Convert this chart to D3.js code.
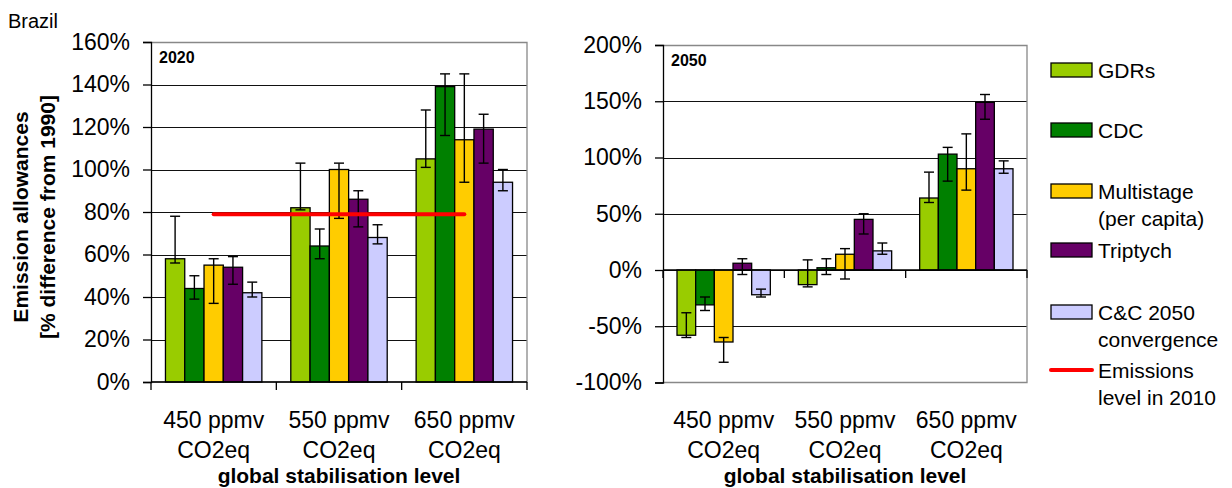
<!DOCTYPE html>
<html><head><meta charset="utf-8">
<script src="https://cdn.jsdelivr.net/npm/d3@7/dist/d3.min.js"></script>
<style>
html,body{margin:0;padding:0;background:#fff;}
svg{display:block;font-family:"Liberation Sans",Arial,sans-serif;}
</style></head>
<body>
<svg id="chart" width="1232" height="488"></svg>
<script>
// ---------- data ----------
const categories = [["450 ppmv","CO2eq"],["550 ppmv","CO2eq"],["650 ppmv","CO2eq"]];
const seriesNames = ["GDRs","CDC","Multistage (per capita)","Triptych","C&C 2050 convergence"];
const seriesColors = ["#99CC00","#008000","#FFCC00","#660066","#CCCCFF"];

// 2020 values (per category) for each series
const gdrs2020 = [58, 82, 105];
const cdc2020 = [44, 64, 139];
const multi2020 = [55, 100, 114];
const trip2020 = [54, 86, 119];
const cc2020 = [42, 68, 94];
const errLow2020 = [[56, 81, 101],[39, 58, 116],[37, 77, 94],[46, 73, 103],[40, 65, 90]];
const errHigh2020 = [[78, 103, 128],[50, 72, 145],[58, 103, 145],[59, 90, 126],[47, 74, 100]];
const emissions2010 = [79, 79, 79];

// 2050 values
const gdrs2050 = [-58, -13, 64];
const cdc2050 = [-31, 2, 103];
const multi2050 = [-64, 14, 90];
const trip2050 = [6, 45, 149];
const cc2050 = [-22, 17, 90];
const errLow2050 = [[-60, -15, 60],[-36, -4, 79],[-82, -8, 71],[-4, 32, 134],[-24, 14, 86]];
const errHigh2050 = [[-38, 9, 87],[-24, 10, 109],[-60, 19, 121],[10, 50, 156],[-17, 24, 97]];

const ticks2020 = [0,20,40,60,80,100,120,140,160];
const ticks2050 = [-100,-50,0,50,100,150,200];

// ---------- drawing ----------
const svg = d3.select("#chart");
const FONT = 21;
const TICKFONT = 23;

svg.append("text").attr("x", 8).attr("y", 28).attr("font-size", 20).text("Brazil");

function panel(opt){
  const g = svg.append("g");
  const x0 = d3.scaleBand().domain(d3.range(categories.length)).range([opt.x, opt.x + opt.w]).paddingInner(0).paddingOuter(0);
  const x1 = d3.scaleBand().domain(d3.range(seriesNames.length)).range([0, x0.bandwidth()]).paddingInner(0).paddingOuter(0.75);
  const y = d3.scaleLinear().domain(opt.domain).range([opt.y + opt.h, opt.y]);
  const top = y(opt.domain[1]);
  const bottom = y(opt.domain[0]);

  // gridlines
  g.append("g").selectAll("line").data(opt.ticks.filter(t => t !== opt.domain[1] && t !== opt.domain[0])).join("line")
    .attr("x1", opt.x).attr("x2", opt.x + opt.w)
    .attr("y1", d => Math.round(y(d)) + 0.5).attr("y2", d => Math.round(y(d)) + 0.5)
    .attr("stroke", "#111").attr("stroke-width", 1);
  // top, right and bottom border (gray)
  g.append("path").attr("d", `M${opt.x},${Math.round(top)+0.5}H${opt.x+opt.w}V${bottom}H${opt.x}`)
    .attr("fill", "none").attr("stroke", "#888").attr("stroke-width", 1.3);

  // y axis
  const yAxis = d3.axisLeft(y).tickValues(opt.ticks).tickSize(8).tickFormat(d => d + "%");
  const ya = g.append("g").attr("transform", `translate(${opt.x},0)`).call(yAxis);
  ya.select(".domain").attr("stroke", "#000").attr("stroke-width", 1.3);
  ya.selectAll(".tick line").attr("stroke", "#000").attr("stroke-width", 1.3);
  ya.selectAll(".tick text").attr("font-size", TICKFONT).attr("fill", "#000").attr("x", -21)
    .attr("font-family", "Liberation Sans, Arial, sans-serif");

  // bars
  const vals = opt.values;
  seriesNames.forEach((s, si) => {
    g.append("g").selectAll("rect").data(vals[si]).join("rect")
      .attr("x", (d, ci) => x0(ci) + x1(si))
      .attr("width", x1.bandwidth())
      .attr("y", d => y(Math.max(0, d)))
      .attr("height", d => Math.abs(y(d) - y(0)))
      .attr("fill", seriesColors[si]).attr("stroke", "#000").attr("stroke-width", 1.3);
  });

  // baseline at zero
  const baseY = y(opt.baseline);
  g.append("line").attr("x1", opt.x).attr("x2", opt.x + opt.w).attr("y1", baseY).attr("y2", baseY)
    .attr("stroke", "#000").attr("stroke-width", 1.3);
  // x category ticks
  const tickXs = d3.range(categories.length + 1).map(i => i < categories.length ? x0(i) : opt.x + opt.w);
  g.append("g").selectAll("line").data(tickXs).join("line")
    .attr("x1", d => d).attr("x2", d => d).attr("y1", baseY).attr("y2", baseY + 8)
    .attr("stroke", "#000").attr("stroke-width", 1.3);

  // error bars
  seriesNames.forEach((s, si) => {
    const eg = g.append("g").attr("stroke", "#000").attr("stroke-width", 1.4);
    categories.forEach((c, ci) => {
      const cx = x0(ci) + x1(si) + x1.bandwidth() / 2;
      const lo = y(opt.errLow[si][ci]), hi = y(opt.errHigh[si][ci]);
      eg.append("line").attr("x1", cx).attr("x2", cx).attr("y1", lo).attr("y2", hi);
      eg.append("line").attr("x1", cx - 5).attr("x2", cx + 5).attr("y1", lo).attr("y2", lo);
      eg.append("line").attr("x1", cx - 5).attr("x2", cx + 5).attr("y1", hi).attr("y2", hi);
    });
  });

  // emissions line
  if (opt.line) {
    const lineGen = d3.line().x((d, i) => x0(i) + x0.bandwidth() / 2).y(d => y(d));
    g.append("path").attr("d", lineGen(opt.line)).attr("fill", "none")
      .attr("stroke", "#FF0000").attr("stroke-width", 4).attr("stroke-linecap", "round");
  }

  // panel label
  g.append("text").attr("x", opt.x + 8).attr("y", opt.y + 21).attr("font-size", 16).attr("font-weight", "bold").text(opt.label);

  // category labels
  categories.forEach((c, ci) => {
    const cx = x0(ci) + x0.bandwidth() / 2;
    c.forEach((t, li) => {
      g.append("text").attr("x", cx).attr("y", 428 + li * 30).attr("text-anchor", "middle").attr("font-size", TICKFONT).text(t);
    });
  });
  g.append("text").attr("x", opt.x + opt.w / 2).attr("y", 483).attr("text-anchor", "middle")
    .attr("font-size", FONT).attr("font-weight", "bold").text("global stabilisation level");
}

panel({x:151, y:42, w:376, h:340, domain:[0,160], ticks:ticks2020, baseline:0, label:"2020",
  values:[gdrs2020, cdc2020, multi2020, trip2020, cc2020], errLow:errLow2020, errHigh:errHigh2020, line:emissions2010});
panel({x:663, y:45, w:364, h:337.5, domain:[-100,200], ticks:ticks2050, baseline:0, label:"2050",
  values:[gdrs2050, cdc2050, multi2050, trip2050, cc2050], errLow:errLow2050, errHigh:errHigh2050, line:null});

// y-axis title
const yt = svg.append("g").attr("font-size", FONT).attr("font-weight", "bold").attr("text-anchor", "middle");
yt.append("text").attr("transform", "translate(28,217) rotate(-90)").text("Emission allowances");
yt.append("text").attr("transform", "translate(55,217) rotate(-90)").text("[% difference from 1990]");

// legend
const legendItems = [
  {lines:["GDRs"], color:seriesColors[0], cy:70},
  {lines:["CDC"], color:seriesColors[1], cy:130},
  {lines:["Multistage","(per capita)"], color:seriesColors[2], cy:191},
  {lines:["Triptych"], color:seriesColors[3], cy:250},
  {lines:["C&C 2050","convergence"], color:seriesColors[4], cy:312},
  {lines:["Emissions","level in 2010"], color:"#FF0000", cy:370, isLine:true}
];
const lg = svg.append("g");
legendItems.forEach(it => {
  if (it.isLine) {
    lg.append("line").attr("x1", 1051).attr("x2", 1092).attr("y1", it.cy).attr("y2", it.cy)
      .attr("stroke", it.color).attr("stroke-width", 4).attr("stroke-linecap", "round");
  } else {
    lg.append("rect").attr("x", 1051).attr("y", it.cy - 7).attr("width", 41).attr("height", 14)
      .attr("fill", it.color).attr("stroke", "#000").attr("stroke-width", 1.3);
  }
  it.lines.forEach((t, i) => {
    lg.append("text").attr("x", 1098).attr("y", it.cy + 8 + i * 27).attr("font-size", FONT).text(t);
  });
});
</script>
</body></html>
